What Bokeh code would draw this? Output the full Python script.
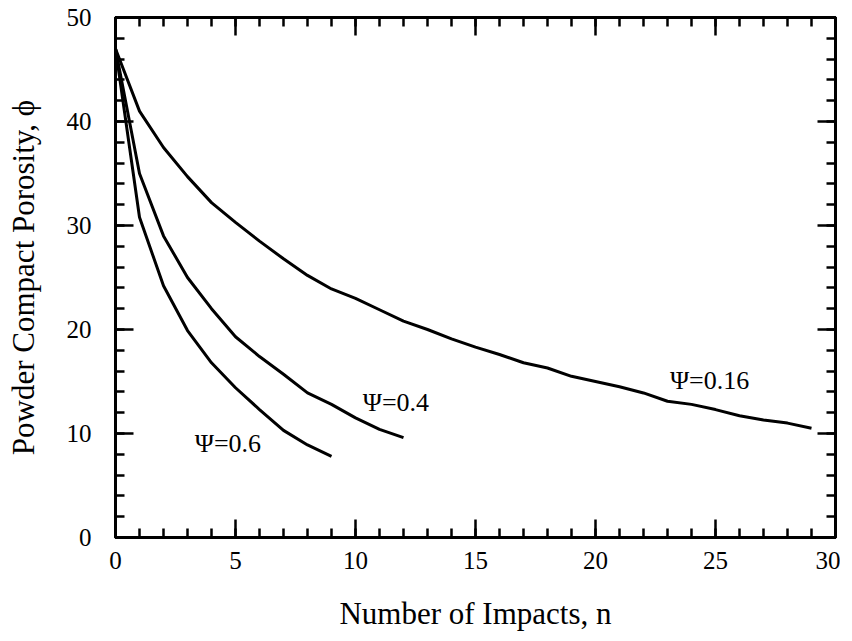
from bokeh.plotting import figure
from bokeh.models import Range1d, LinearAxis, FixedTicker
from bokeh.core.properties import value
from bokeh.embed import file_html
from bokeh.resources import INLINE

# --- data ---
n_016 = list(range(0, 30))
phi_016 = [47.0, 41.0, 37.5, 34.7, 32.2, 30.3, 28.5, 26.8, 25.2, 23.9,
           23.0, 21.9, 20.8, 20.0, 19.1, 18.3, 17.6, 16.8, 16.3, 15.5,
           15.0, 14.5, 13.9, 13.1, 12.8, 12.3, 11.7, 11.3, 11.0, 10.5]
n_04 = list(range(0, 13))
phi_04 = [47.0, 35.0, 29.0, 25.0, 22.0, 19.3, 17.4, 15.7, 13.9, 12.8, 11.5, 10.4, 9.6]
n_06 = list(range(0, 10))
phi_06 = [47.0, 30.8, 24.2, 19.9, 16.8, 14.4, 12.3, 10.3, 8.9, 7.8]

label_texts = ["\u03a8=0.16", "\u03a8=0.4", "\u03a8=0.6"]
label_x = [23.1, 10.3, 3.3]
label_y = [15.1, 13.0, 9.0]

x_major = [0, 5, 10, 15, 20, 25, 30]
x_minor = list(range(0, 31))
y_major = [0, 10, 20, 30, 40, 50]
y_minor = list(range(0, 51, 2))

FONT = "Liberation Serif"

p = figure(frame_width=720, frame_height=520,
           x_range=Range1d(0, 30), y_range=Range1d(0, 50),
           output_backend="svg", toolbar_location=None,
           x_axis_location=None, y_axis_location=None,
           min_border_left=115, min_border_top=17,
           min_border_bottom=92, min_border_right=5)
p.xgrid.visible = False
p.ygrid.visible = False
p.outline_line_color = "black"
p.outline_line_width = 3
p.background_fill_color = "white"
p.border_fill_color = "white"


def style_axis(ax, major, minor, show_labels, label=None):
    ax.ticker = FixedTicker(ticks=major, minor_ticks=minor)
    ax.axis_line_width = 3
    ax.axis_line_color = "black"
    ax.major_tick_in = 18
    ax.major_tick_out = 0
    ax.minor_tick_in = 9
    ax.minor_tick_out = 0
    ax.major_tick_line_width = 2.5
    ax.minor_tick_line_width = 2.5
    ax.major_tick_line_color = "black"
    ax.minor_tick_line_color = "black"
    ax.major_label_text_font = FONT
    ax.major_label_text_font_size = "25px"
    ax.major_label_text_color = "black"
    if not show_labels:
        ax.major_label_overrides = {t: "" for t in major}
        ax.major_label_standoff = 0
    if label:
        ax.axis_label = label
        ax.axis_label_text_font = FONT
        ax.axis_label_text_font_size = "31px"
        ax.axis_label_text_font_style = "normal"
        ax.axis_label_text_color = "black"


xb = LinearAxis()
style_axis(xb, x_major, x_minor, True, "Number of Impacts, n")
xb.major_label_standoff = 14
xb.axis_label_standoff = 24
p.add_layout(xb, "below")

yl = LinearAxis()
style_axis(yl, y_major, y_minor, True, "Powder Compact Porosity, \u03d5")
yl.major_label_standoff = 24
yl.axis_label_standoff = 23
p.add_layout(yl, "left")

xt = LinearAxis()
style_axis(xt, x_major, x_minor, False)
p.add_layout(xt, "above")

yr = LinearAxis()
style_axis(yr, y_major, y_minor, False)
p.add_layout(yr, "right")

for xs, ys in [(n_016, phi_016), (n_04, phi_04), (n_06, phi_06)]:
    p.line(xs, ys, line_color="black", line_width=3)

p.text(x=label_x, y=label_y, text=label_texts,
       text_font=value(FONT), text_font_size="26px",
       text_align="left", text_baseline="middle", text_color="black")

open("out.html", "w").write(file_html(p, INLINE))
